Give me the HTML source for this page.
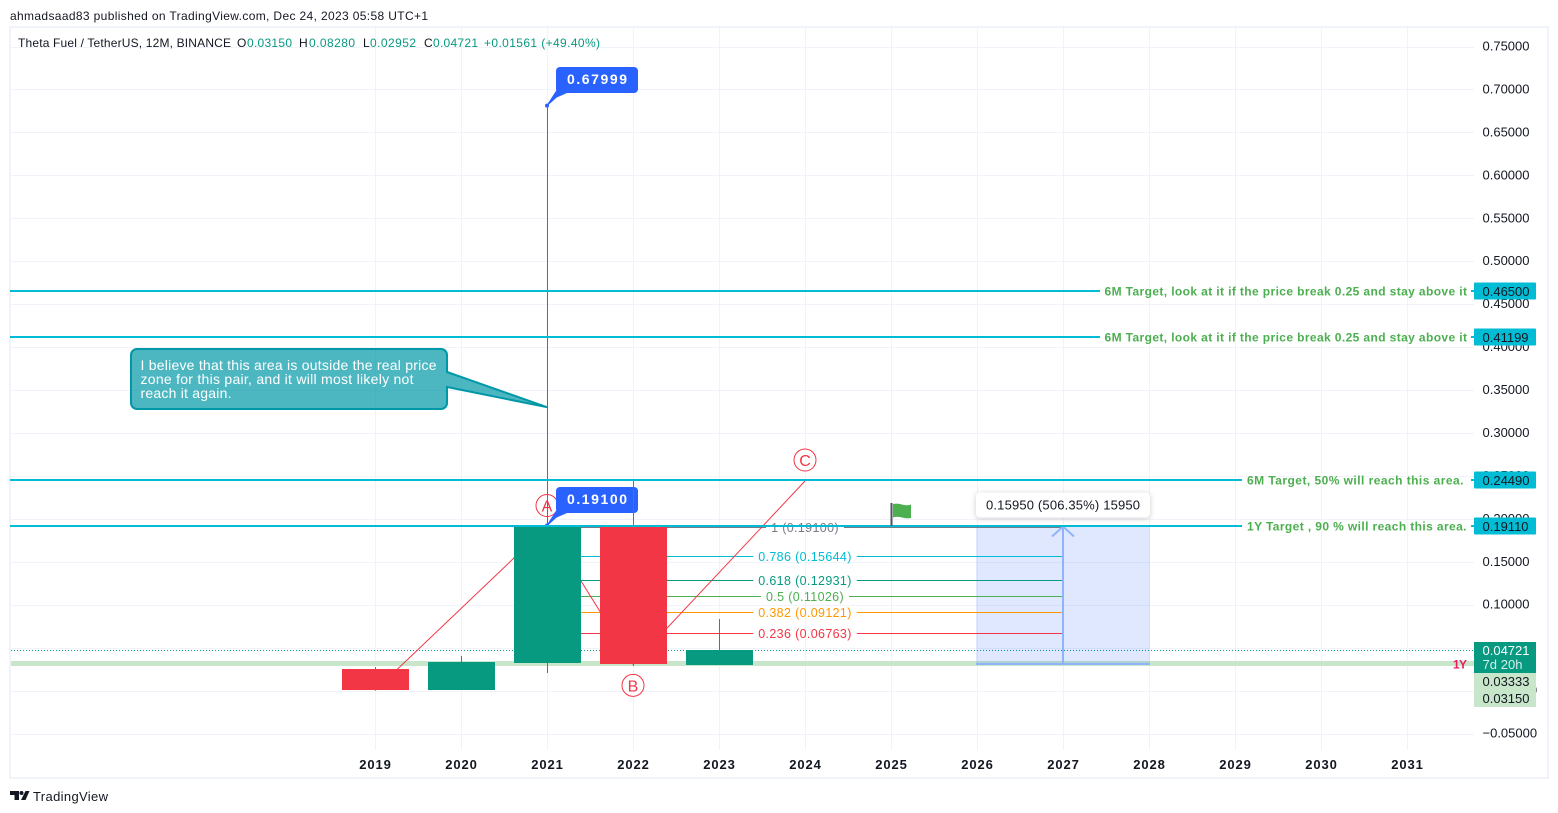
<!DOCTYPE html>
<html lang="en">
<head>
<meta charset="utf-8">
<title>Theta Fuel / TetherUS chart</title>
<style>
html,body{margin:0;padding:0;background:#fff;width:1558px;height:813px;overflow:hidden}
svg{display:block;font-family:"Liberation Sans","DejaVu Sans",sans-serif}
</style>
</head>
<body>
<svg id="chart" width="1558" height="813" viewBox="0 0 1558 813" xmlns="http://www.w3.org/2000/svg">
  <text x="10" y="20" font-size="12" fill="#131722" textLength="418" lengthAdjust="spacing">ahmadsaad83 published on TradingView.com, Dec 24, 2023 05:58 UTC+1</text>
  <rect x="10" y="27" width="1538" height="751" fill="none" stroke="#f0f3fa" stroke-width="2"/>
  <g id="grid"></g>
  <g id="drawings"></g>
  <g id="candles"></g>
  <g id="overlays"></g>
  <g id="axes"></g>
  <g font-size="12">
    <text x="18" y="47" fill="#131722" textLength="213" lengthAdjust="spacing">Theta Fuel / TetherUS, 12M, BINANCE</text>
    <text x="237" y="47" fill="#131722">O</text>
    <text x="247" y="47" fill="#089981" textLength="45" lengthAdjust="spacing">0.03150</text>
    <text x="299" y="47" fill="#131722">H</text>
    <text x="309" y="47" fill="#089981" textLength="46" lengthAdjust="spacing">0.08280</text>
    <text x="363" y="47" fill="#131722">L</text>
    <text x="370" y="47" fill="#089981" textLength="46" lengthAdjust="spacing">0.02952</text>
    <text x="424" y="47" fill="#131722">C</text>
    <text x="433" y="47" fill="#089981" textLength="45" lengthAdjust="spacing">0.04721</text>
    <text x="484" y="47" fill="#089981" textLength="116" lengthAdjust="spacing">+0.01561 (+49.40%)</text>
  </g>
  <g>
    <path d="M10 791h9v9h-4.500v-5h-4.500z M25.500 791h4l-4 9h-4.500z" fill="#131722"/>
    <circle cx="21.500" cy="793" r="2" fill="#131722"/>
    <text x="33" y="801" font-size="13" fill="#131722" textLength="75" lengthAdjust="spacing">TradingView</text>
  </g>
</svg>
<script>
/* ---- chart data ---- */
const years = [2019, 2020, 2021, 2022, 2023];
const opens = [0.0250, 0.0010, 0.0320, 0.1915, 0.0295];
const highs = [0.0270, 0.0400, 0.67999, 0.2449, 0.0828];
const lows = [0.0010, 0.0010, 0.0205, 0.0285, 0.0295];
const closes = [0.0010, 0.0335, 0.1900, 0.0305, 0.04721];
const axisYears = [2019, 2020, 2021, 2022, 2023, 2024, 2025, 2026, 2027, 2028, 2029, 2030, 2031];
const tickValues = [0.75, 0.70, 0.65, 0.60, 0.55, 0.50, 0.45, 0.40, 0.35, 0.30, 0.25, 0.20, 0.15, 0.10, 0.05, 0, -0.05];
const tickLabels = ["0.75000", "0.70000", "0.65000", "0.60000", "0.55000", "0.50000", "0.45000", "0.40000", "0.35000", "0.30000", "0.25000", "0.20000", "0.15000", "0.10000", "0.05000", "\u22120.00000", "\u22120.05000"];
const targetValues = [0.46500, 0.41199, 0.24490, 0.19110];
const targetLabels = ["0.46500", "0.41199", "0.24490", "0.19110"];
const targetTexts = ["6M Target, look at it if the price break 0.25 and stay above it", "6M Target, look at it if the price break 0.25 and stay above it", "6M Target, 50% will reach this area.", "1Y Target , 90 % will reach this area."];
const fibValues = [0.19100, 0.15644, 0.12931, 0.11026, 0.09121, 0.06763];
const fibLabels = ["1 (0.19100)", "0.786 (0.15644)", "0.618 (0.12931)", "0.5 (0.11026)", "0.382 (0.09121)", "0.236 (0.06763)"];
const fibColors = ["#787b86", "#00bcd4", "#089981", "#4caf50", "#ff9800", "#f23645"];
const abcTimes = [2019, 2021, 2022, 2024];
const abcPrices = [0.0000, 0.1910, 0.0305, 0.2440];
const abcLetters = ["", "A", "B", "C"];
const lastClose = 0.04721;
const baseLevel = 0.03150;
const measureFrom = 0.03150;
const measureTo = 0.19100;
const measureStart = 2026;
const measureMid = 2027;
const measureEnd = 2028;
const peakValues = [0.67999, 0.19100];
const peakLabels = ["0.67999", "0.19100"];
const flagTime = 2025;
const flagPrice = 0.1910;
const calloutTime = 2021;
const calloutPrice = 0.33;

/* ---- axis functions ---- */
const x = function (year) { return 375 + (year - 2019) * 86; };
const y = function (price) { return 46.5 + (0.75 - price) * 858.75; };

const NS = 'http://www.w3.org/2000/svg';
const mk = function (parent, tag, attrs, text) {
  const node = document.createElementNS(NS, tag);
  for (const k in attrs) node.setAttribute(k, attrs[k]);
  if (text !== undefined) node.textContent = text;
  parent.appendChild(node);
  return node;
};
const grid = document.getElementById('grid');
const drawings = document.getElementById('drawings');
const candles = document.getElementById('candles');
const overlays = document.getElementById('overlays');
const axes = document.getElementById('axes');
const RIGHT = 1474, LEFT = 11;
let el;

/* grid */
tickValues.forEach(function (v) {
  el = mk(grid, 'rect', {x: LEFT, y: Math.round(y(v)), width: RIGHT - LEFT, height: 1, fill: '#f0f3fa'});
  
  
});
axisYears.forEach(function (t) {
  el = mk(grid, 'rect', {x: x(t), y: 28, width: 1, height: 722, fill: '#f0f3fa'});
  
  
});

/* base band + last price dotted line */
el = mk(drawings, 'rect', {x: LEFT, y: y(baseLevel) - 2.5, width: RIGHT - LEFT, height: 5, fill: '#c8e6c9'});


el = mk(drawings, 'line', {x1: LEFT, x2: RIGHT, y1: Math.round(y(lastClose)) + 0.5, y2: Math.round(y(lastClose)) + 0.5, stroke: '#089981', 'stroke-width': 1, 'stroke-dasharray': '1 2'});



/* measure zone */
const mzTop = y(measureTo), mzBot = y(measureFrom);
el = mk(drawings, 'rect', {x: x(measureStart) - 1, y: mzTop, width: x(measureEnd) - x(measureStart) + 2, height: mzBot - mzTop, fill: 'rgba(41,98,255,0.15)'});



/* fibonacci */
fibValues.forEach(function (v, i) {
  const py = Math.round(y(v) + 0.2) + 0.5;
  const label = mk(drawings, 'text', {x: x(2024), y: py + 4.5, 'font-size': 12.5, 'text-anchor': 'middle', fill: fibColors[i], 'letter-spacing': '0.35'}, fibLabels[i]);
  
  
  const half = label.getComputedTextLength() / 2 + 5;
  el = mk(drawings, 'line', {x1: x(2021), x2: x(2024) - half, y1: py, y2: py, stroke: fibColors[i], 'stroke-width': 1});
  
  
  el = mk(drawings, 'line', {x1: x(2024) + half, x2: x(measureMid), y1: py, y2: py, stroke: fibColors[i], 'stroke-width': 1});
  
  
});

/* ABC pattern */
for (let i = 1; i < abcTimes.length; i++) {
  el = mk(drawings, 'line', {x1: x(abcTimes[i - 1]), y1: y(abcPrices[i - 1]), x2: x(abcTimes[i]), y2: y(abcPrices[i]), stroke: '#f23645', 'stroke-width': 1});
  
  
}
abcLetters.forEach(function (letter, i) {
  if (!letter) return;
  const dir = letter === 'B' ? 1 : -1;
  const cx = x(abcTimes[i]);
  const cy = y(abcPrices[i]) + dir * 21;
  el = mk(drawings, 'circle', {cx: cx, cy: cy, r: 11, fill: '#fff', 'fill-opacity': 0.4, stroke: '#f23645', 'stroke-width': 1});
  
  
  el = mk(drawings, 'text', {x: cx, y: cy + 6, 'font-size': 16, 'text-anchor': 'middle', fill: '#f23645'}, letter);
  
  
});

/* peak bubbles */
peakValues.forEach(function (v, i) {
  const tipX = x(2021), tipY = y(v);
  const top = Math.round(tipY - 40);
  el = mk(drawings, 'path', {d: 'M' + tipX + ' ' + (tipY - 1) + 'L' + (tipX + 9.5) + ' ' + (top + 30) + 'L' + (tipX + 21) + ' ' + (top + 25) + 'L' + (tipX + 9.5) + ' ' + (top + 24) + 'Z', fill: '#2962ff', stroke: '#2962ff', 'stroke-width': 1});
  
  
  el = mk(drawings, 'rect', {x: tipX + 9, y: top, width: 82, height: 26, rx: 4, fill: '#2962ff'});
  
  
  el = mk(drawings, 'text', {x: tipX + 20, y: top + 17, 'font-size': 14, 'font-weight': 700, fill: '#fff', textLength: 60, lengthAdjust: 'spacing'}, peakLabels[i]);
  
  
  el = mk(drawings, 'circle', {cx: tipX, cy: tipY - 1, r: 2, fill: '#2962ff'});
  
  
});

/* candles */
years.forEach(function (yr, i) {
  const up = closes[i] >= opens[i];
  const col = up ? '#089981' : '#f23645';
  const cx = Math.round(x(yr));
  const yH = Math.round(y(highs[i])), yL = Math.round(y(lows[i]));
  const yT = Math.round(y(Math.max(opens[i], closes[i]))), yB = Math.round(y(Math.min(opens[i], closes[i])));
  el = mk(candles, 'rect', {x: cx, y: yH, width: 1, height: yL - yH, fill: col});
  
  
  el = mk(candles, 'rect', {x: cx - 33, y: yT, width: 67, height: Math.max(1, yB - yT), fill: col});
  
  
});

/* measure arrow */
const mx = x(measureMid);
el = mk(overlays, 'line', {x1: mx, x2: mx, y1: mzBot, y2: mzTop, stroke: '#90b4fa', 'stroke-width': 2});


el = mk(overlays, 'path', {d: 'M' + (mx - 11) + ' ' + (mzTop + 10) + 'L' + mx + ' ' + mzTop + 'L' + (mx + 11) + ' ' + (mzTop + 10), fill: 'none', stroke: '#90b4fa', 'stroke-width': 2});


el = mk(overlays, 'line', {x1: x(measureStart) - 1, x2: x(measureEnd) + 1, y1: Math.round(mzBot), y2: Math.round(mzBot), stroke: '#90b4fa', 'stroke-width': 2});



/* horizontal targets */
const lineEnds = [1100, 1100, 1242, 1242];
const textStarts = [1104.5, 1104.5, 1247, 1247];
const textEnds = [1467, 1467, 1463.5, 1466.5];
targetValues.forEach(function (v, i) {
  const py = Math.round(y(v));
  el = mk(overlays, 'line', {x1: LEFT - 1, x2: lineEnds[i], y1: py, y2: py, stroke: '#00bcd4', 'stroke-width': 2});
  
  
  el = mk(overlays, 'line', {x1: 1471, x2: RIGHT, y1: py, y2: py, stroke: '#00bcd4', 'stroke-width': 2});
  
  
  el = mk(overlays, 'text', {x: textStarts[i], y: py + 4.5, 'font-size': 12, 'font-weight': 700, fill: '#4caf50', textLength: textEnds[i] - textStarts[i], lengthAdjust: 'spacing'}, targetTexts[i]);
  
  
});

/* flag */
const fx = x(flagTime), fy = Math.round(y(flagPrice));
el = mk(overlays, 'rect', {x: fx - 0.5, y: fy - 24, width: 2, height: 23, fill: '#50535e'});


el = mk(overlays, 'path', {d: 'M' + (fx + 2) + ' ' + (fy - 23) + 'q4 -1 9 0.5t9 0v13.500q-4 1 -9 -0.500t-9 0z', fill: '#4caf50'});



/* measure label */
const measureBox = mk(overlays, 'rect', {x: x(measureStart) - 1, y: mzTop - 34, width: x(measureEnd) - x(measureStart) + 2, height: 25, rx: 4, fill: '#fff', style: 'filter:drop-shadow(0 1px 3px rgba(0,0,0,0.2))'});


el = mk(overlays, 'text', {x: x(measureStart) + 9, y: mzTop - 17, 'font-size': 13, fill: '#131722', textLength: 154, lengthAdjust: 'spacing'}, '0.15950 (506.35%) 15950');



/* callout */
const tipX = x(calloutTime), tipY = y(calloutPrice);
el = mk(overlays, 'path', {d: 'M137 349H441a6 6 0 0 1 6 6V372L' + tipX + ' ' + tipY + 'L447 387V403a6 6 0 0 1 -6 6H137a6 6 0 0 1 -6 -6V355a6 6 0 0 1 6 -6Z', fill: 'rgba(0,151,167,0.7)', stroke: '#0097a7', 'stroke-width': 2});


const calloutLines = ['I believe that this area is outside the real price', 'zone for this pair, and it will most likely not', 'reach it again.'];
const calloutWidths = [296, 273, 91];
calloutLines.forEach(function (t, i) {
  el = mk(overlays, 'text', {x: 140.500, y: 370 + i * 14, 'font-size': 14, fill: '#fff', textLength: calloutWidths[i], lengthAdjust: 'spacing'}, t);
  
  
});

/* time axis */
axisYears.forEach(function (t) {
  el = mk(axes, 'text', {x: x(t) + 0.5, y: 769, 'font-size': 13, 'font-weight': 700, 'text-anchor': 'middle', fill: '#131722', 'letter-spacing': '0.9'}, String(t));
  
  
});

/* price axis */
tickValues.forEach(function (v, i) {
  el = mk(axes, 'text', {x: 1482.5, y: y(v) + 4, 'font-size': 13, fill: '#131722'}, tickLabels[i]);
  
  
});

/* price tags */
targetValues.forEach(function (v, i) {
  const py = Math.round(y(v));
  el = mk(axes, 'rect', {x: RIGHT, y: py - 8.5, width: 62, height: 17, fill: '#00bcd4', rx: 1});
  
  
  el = mk(axes, 'text', {x: 1482.5, y: py + 5, 'font-size': 13, fill: '#131722'}, targetLabels[i]);
  
  
});
const lastY = Math.round(y(lastClose));
el = mk(axes, 'rect', {x: RIGHT, y: lastY + 23, width: 62, height: 34, fill: '#c8e6c9'});


el = mk(axes, 'text', {x: 1482.5, y: lastY + 36, 'font-size': 13, fill: '#131722'}, '0.03333');


el = mk(axes, 'text', {x: 1482.5, y: lastY + 53, 'font-size': 13, fill: '#131722'}, '0.03150');


el = mk(axes, 'rect', {x: RIGHT, y: lastY - 8, width: 62, height: 31, fill: '#089981'});


el = mk(axes, 'text', {x: 1482.5, y: lastY + 5, 'font-size': 13, fill: '#fff'}, '0.04721');


el = mk(axes, 'text', {x: 1482.5, y: lastY + 19, 'font-size': 13, fill: '#d5eee9', textLength: 40, lengthAdjust: 'spacing'}, '7d 20h');


el = mk(axes, 'text', {x: 1453, y: Math.round(y(baseLevel)) + 4.5, 'font-size': 12, 'font-weight': 700, fill: '#e91e63', textLength: 14, lengthAdjust: 'spacing'}, '1Y');


</script>
</body>
</html>
